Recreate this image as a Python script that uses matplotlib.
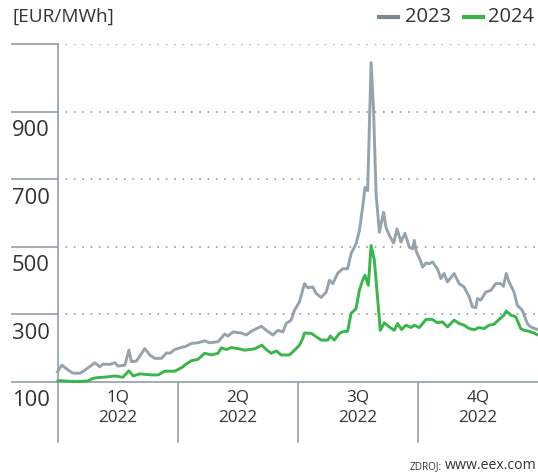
import matplotlib
matplotlib.use("Agg")
import matplotlib.pyplot as plt
import matplotlib.transforms as mtransforms
from matplotlib.lines import Line2D

# ---- data (day of year 2022, EUR/MWh) ----
days_2023 = [0, 3.2, 8.2, 11.7, 17, 20.8, 28.4, 32.2, 34.5, 39.8, 43.6, 45.9, 51.2, 54.2, 56.2, 60,
             66.3, 70.1, 73.9, 79, 82.8, 85.3, 89.1, 95.4, 96.6, 101.7, 106.7, 111.8, 115.6, 121.9,
             127, 129.5, 133.3, 139.6, 143.4, 147.2, 154.8, 158.6, 163.6, 167.4, 171.2, 173.7,
             177.5, 180, 183.8, 187.6, 190.1, 193.9, 196.5, 200.3, 204.1, 206.6, 209.1, 212.9,
             216.6, 220.4, 223, 226.8, 229.3, 231.8, 233.6, 235.6, 238.2, 240.1, 242, 244.5,
             247.7, 249.5, 252, 255.3, 257.9, 260.9, 263.9, 267.2, 269.7, 271, 272.3, 276.1,
             277.3, 279.9, 282.4, 284.9, 288.6, 291.2, 293.7, 296.2, 301.3, 305.1, 308.9, 312.7,
             315.2, 317.8, 319, 321.5, 325.3, 329.1, 332.9, 336.7, 338.7, 340.9, 343, 346.8,
             349.3, 353.1, 356.9, 359.4, 362.7, 365]
vals_2023 = [130, 150, 135, 126, 126, 135, 157, 145, 153, 152, 157, 147, 150, 194, 160, 162,
             199, 180, 170, 170, 186, 185, 196, 204, 204, 214, 216, 222, 216, 219,
             242, 236, 248, 245, 239, 250, 265, 253, 239, 253, 248, 273,
             283, 312, 337, 391, 379, 381, 362, 350, 366, 401, 391, 422,
             435, 435, 480, 509, 548, 617, 676, 666, 1045, 902, 657, 543,
             602, 558, 534, 511, 553, 514, 540, 499, 494, 519, 489, 455,
             440, 452, 450, 455, 435, 406, 421, 396, 421, 391, 381, 352,
             322, 320, 347, 342, 366, 371, 391, 391, 383, 421, 396, 366,
             327, 312, 273, 263, 258, 255]

days_2024 = [0.4, 1.9, 13.3, 23.1, 27.1, 30.9, 37.5, 43.6, 49.6, 54.2, 57.5, 62.5, 71.4, 76.4,
             81.5, 89.1, 95.4, 96.6, 101.7, 106.7, 111.8, 116.9, 121.9, 124.5, 128.3, 132,
             138.3, 142.1, 149.7, 155.2, 158.6, 162.4, 166.2, 170, 176.2, 180, 183.8, 186.3,
             187.6, 192.7, 196.5, 200.3, 205.3, 207.3, 210.3, 214.1, 217.9, 220.4, 223, 226.8,
             229.3, 231.8, 233.6, 236.1, 238.2, 240.7, 245.2, 248.2, 252, 255.8, 258.3, 261.4,
             264.7, 268.5, 271, 274.8, 279.9, 284.9, 288.6, 292.4, 296.2, 301.3, 305.1, 308.9,
             312.7, 316.5, 320.3, 324, 327.8, 331.6, 335.4, 339.2, 340.9, 344.3, 348.1, 351.9,
             354.4, 358.2, 361.9, 365]
vals_2024 = [103, 104, 101, 103, 111, 113, 115, 118, 114, 133, 118, 124, 121, 121,
             132, 132, 145, 150, 163, 167, 185, 180, 185, 201, 196, 202,
             198, 194, 198, 209, 196, 185, 192, 180, 180, 194, 209, 229,
             245, 244, 234, 224, 224, 236, 224, 244, 250, 250, 303, 317,
             371, 401, 416, 386, 504, 460, 253, 275, 263, 253, 273, 255,
             268, 261, 268, 261, 285, 285, 275, 278, 263, 283, 273, 268,
             258, 255, 261, 258, 268, 271, 285, 298, 310, 298, 293, 258,
             253, 250, 245, 239]

grid_values = [300, 500, 700, 900, 1100]
tick_labels = ["100", "300", "500", "700", "900"]
quarter_labels = ["1Q", "2Q", "3Q", "4Q"]
year_label = "2022"
series_names = ["2023", "2024"]

# ---- style ----
FONT = "Open Sans"
TXT = "#333333"
AXC = "#9AA6AE"
GRAY = "#97A3AA"
GRAY_LEG = "#7A8890"
GREEN = "#3AB54A"

W, H = 538, 474
fig = plt.figure(figsize=(W / 100, H / 100), dpi=100)
L, R, B, T = 57.5, 538, 382, 44
ax = fig.add_axes([L / W, 1 - B / H, (R - L) / W, (B - T) / H])
ax.set_xlim(0, 365)
ax.set_ylim(100, 1100)
ax.axis("off")

# data lines
ax.plot(days_2023, vals_2023, color=GRAY, lw=2.1, solid_joinstyle="round", zorder=3, clip_on=False)
ax.plot(days_2024, vals_2024, color=GREEN, lw=2.1, solid_joinstyle="round", zorder=4, clip_on=False)

# dotted gridlines
for g in grid_values:
    ax.axhline(g, color=AXC, lw=1.5, linestyle=(0, (0.01, 4)), dash_capstyle="round", zorder=1)

# solid left ticks + bottom baseline
ylab_tr = mtransforms.blended_transform_factory(ax.transAxes, ax.transData)
tick_x0 = (12 - L) / (R - L)
for g in [100] + grid_values:
    x1 = 1.0 if g == 100 else 0.0
    ax.add_line(Line2D([tick_x0, x1], [g, g], transform=ylab_tr, color=AXC, lw=1.3,
                       clip_on=False, zorder=2))

# vertical axis + quarter separators
sep_tr = mtransforms.blended_transform_factory(ax.transData, ax.transAxes)
y_low = -(442 - B) / (B - T)
ax.add_line(Line2D([0, 0], [y_low, 1], transform=sep_tr, color=AXC, lw=1.3, clip_on=False, zorder=2))
for q in range(1, 4):
    xq = 365 * q / 4
    ax.add_line(Line2D([xq, xq], [y_low, 0], transform=sep_tr, color=AXC, lw=1.3, clip_on=False, zorder=2))

# y tick labels (below their lines)
for lab in tick_labels:
    tr = mtransforms.offset_copy(ylab_tr, fig=fig, x=0, y=-19, units="dots")
    ax.text(tick_x0, float(lab), lab, transform=tr, ha="left", va="center",
            fontsize=15.8, color=TXT, family=FONT)

# quarter labels
for i, ql in enumerate(quarter_labels):
    xc = 365 * (i + 0.5) / 4
    ax.text(xc, -(398 - B) / (B - T), ql, transform=sep_tr, ha="center", va="center",
            fontsize=12.3, color=TXT, family=FONT)
    ax.text(xc, -(418 - B) / (B - T), year_label, transform=sep_tr, ha="center", va="center",
            fontsize=12.3, color=TXT, family=FONT)

# unit label
fig.text(12 / W, 1 - 17 / H, "[EUR/MWh]", ha="left", va="center", fontsize=13.7,
         color=TXT, family=FONT)

# legend
yl = 1 - 16.5 / H
fig.add_artist(Line2D([379 / W, 398 / W], [yl, yl], color=GRAY_LEG, lw=3, transform=fig.transFigure))
fig.text(405 / W, yl, series_names[0], ha="left", va="center", fontsize=14.5, color=TXT, family=FONT)
fig.add_artist(Line2D([464 / W, 483 / W], [yl, yl], color=GREEN, lw=3, transform=fig.transFigure))
fig.text(488 / W, yl, series_names[1], ha="left", va="center", fontsize=14.5, color=TXT, family=FONT)

# source
fig.text(537 / W, 1 - 469 / H, "www.eex.com", ha="right", va="baseline", fontsize=10.2,
         color=TXT, family=FONT)
fig.text(442 / W, 1 - 469 / H, "ZDROJ:", ha="right", va="baseline", fontsize=7.2,
         color=TXT, family=FONT)

fig.savefig("out.png", dpi=100)
